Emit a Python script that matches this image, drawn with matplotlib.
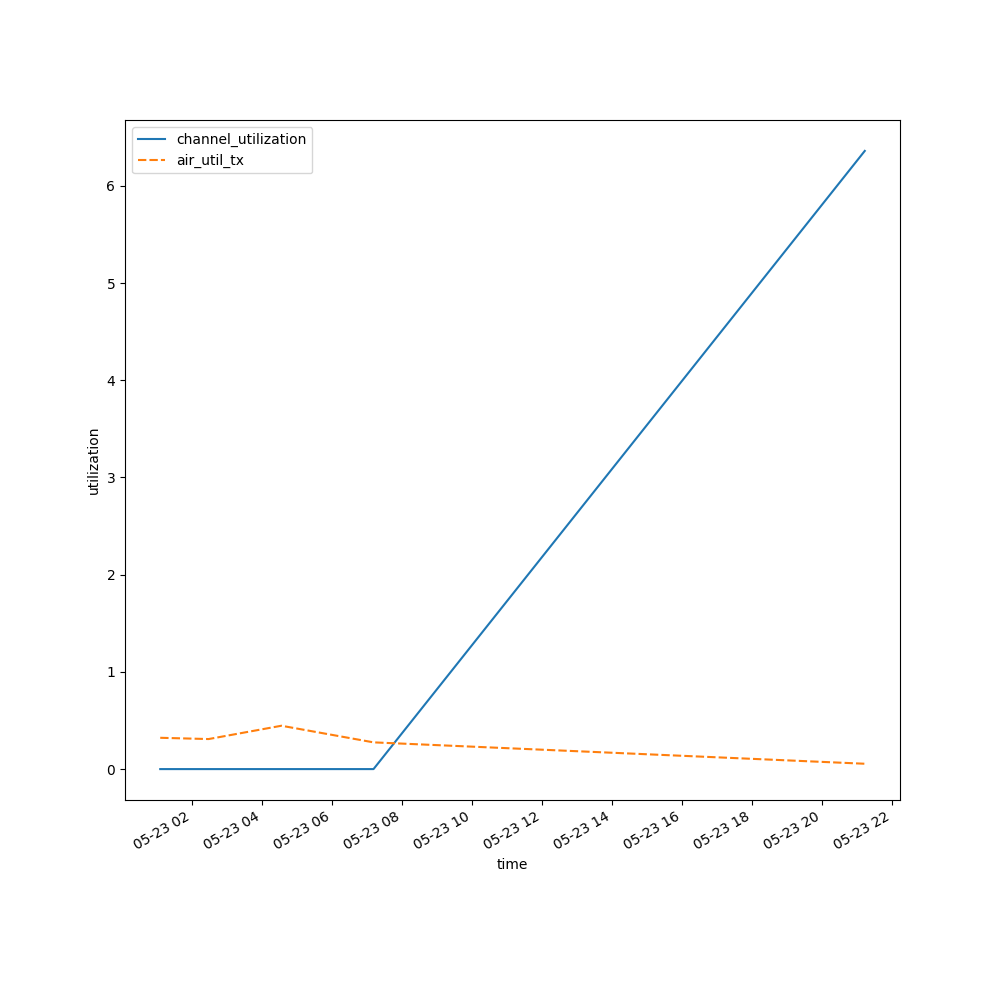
import matplotlib
matplotlib.use("Agg")
import matplotlib.pyplot as plt
import pandas as pd

times = pd.to_datetime([
    "2024-05-23 01:05",
    "2024-05-23 02:28",
    "2024-05-23 04:33",
    "2024-05-23 07:11",
    "2024-05-23 21:14",
])
channel_utilization = [0.0, 0.0, 0.0, 0.0, 6.36]
air_util_tx = [0.322, 0.309, 0.446, 0.275, 0.055]

fig, ax = plt.subplots(figsize=(10, 10), dpi=100)
ax.plot(times, channel_utilization, color="#1f77b4", linewidth=1.5, label="channel_utilization")
ax.plot(times, air_util_tx, color="#ff7f0e", linewidth=1.5, dashes=(4, 1.5), label="air_util_tx")
ax.set_xlabel("time")
ax.set_ylabel("utilization")
ax.legend(loc="upper left")
fig.autofmt_xdate()
fig.savefig("out.png", dpi=100)
